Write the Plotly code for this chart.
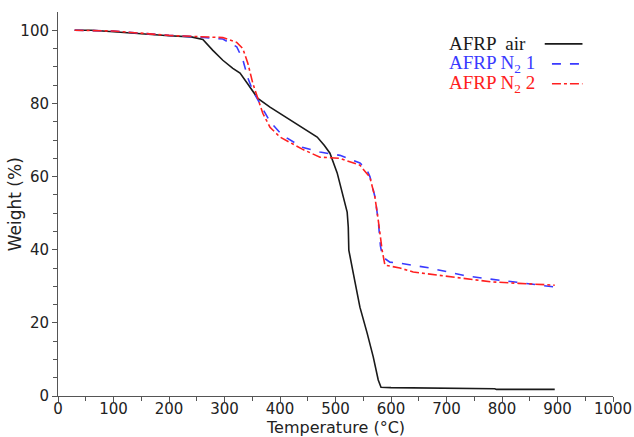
import plotly.graph_objects as go

# TGA curves
air_t = [30, 60, 100, 150, 200, 240, 261, 279, 297, 315, 328, 341, 360, 382, 413, 441, 467, 480,
         490, 503, 514, 521, 523, 524, 532, 544, 557, 568, 577, 582, 600, 700, 705, 787, 790, 895]
air_w = [100, 100, 99.6, 99.0, 98.5, 98.2, 97.5, 94.5, 91.8, 89.6, 88.3, 85.5, 81.4, 79.0, 76.0, 73.5, 70.8, 68.5,
         66.4, 61.0, 54.4, 50.3, 46.2, 39.9, 33.6, 24.3, 17.2, 10.7, 4.4, 2.4, 2.3, 2.2, 2.0, 2.0, 1.8, 1.8]

n1_t = [30, 100, 200, 250, 297, 322, 333, 342, 351, 360, 369, 382, 400, 413, 440, 472, 508, 544,
        556, 562, 571, 577, 581, 585, 598, 616, 670, 730, 766, 827, 895]
n1_w = [100, 99.8, 98.6, 98.2, 97.6, 95.5, 92.0, 87.0, 83.5, 81.2, 78.5, 75.0, 72.0, 70.5, 68.0, 66.7, 65.8, 63.7,
        62.0, 60.0, 54.5, 48.0, 41.0, 38.0, 36.6, 36.3, 35.0, 33.0, 32.2, 31.1, 29.8]

n2_t = [30, 100, 200, 250, 297, 322, 333, 342, 351, 360, 369, 382, 400, 440, 472, 508, 544,
        562, 571, 577, 584, 589, 616, 640, 703, 781, 830, 895]
n2_w = [100, 99.8, 98.6, 98.3, 98.0, 96.7, 95.0, 91.0, 85.5, 81.4, 77.3, 73.5, 70.8, 67.5, 65.3, 65.0, 63.1,
        59.8, 54.4, 48.1, 39.9, 35.8, 35.0, 33.9, 32.7, 31.2, 30.8, 30.3]

legend_names = ["AFRP  air", "AFRP N<sub>2</sub> 1", "AFRP N<sub>2</sub> 2"]
colors = ["#1a1a1a", "#3a3aff", "#ff2020"]
dashes = ["solid", "dash", "dashdot"]

fig = go.Figure()
for xs, ys, c, d in [(air_t, air_w, colors[0], dashes[0]),
                     (n1_t, n1_w, colors[1], dashes[1]),
                     (n2_t, n2_w, colors[2], dashes[2])]:
    fig.add_trace(go.Scatter(x=xs, y=ys, mode="lines", showlegend=False,
                             line=dict(color=c, width=1.6, dash=d)))

# legend drawn by hand: coloured serif text with the line sample on the right
for i, (name, c, d) in enumerate(zip(legend_names, colors, dashes)):
    yp = 0.917 - i * 0.052
    fig.add_annotation(x=0.701, y=yp, xref="paper", yref="paper", text=name, showarrow=False,
                       xanchor="left", yanchor="middle",
                       font=dict(family="Liberation Serif", size=19, color=c))
    x0 = 0.877 if i == 0 else 0.89
    fig.add_shape(type="line", xref="paper", yref="paper", x0=x0, x1=0.945, y0=yp, y1=yp,
                  line=dict(color=c, width=1.6, dash=d))

# axis titles as annotations so they sit where the original has them
fig.add_annotation(x=0.5, y=-0.082, xref="paper", yref="paper", text="Temperature (°C)",
                   showarrow=False, xanchor="center", yanchor="middle",
                   font=dict(family="DejaVu Sans", size=16, color="#222"))
fig.add_annotation(x=-0.077, y=0.5, xref="paper", yref="paper", text="Weight (%)",
                   showarrow=False, xanchor="center", yanchor="middle", textangle=-90,
                   font=dict(family="DejaVu Sans", size=17, color="#222"))

tick_font = dict(family="DejaVu Sans", size=15, color="#222")
fig.update_xaxes(range=[0, 1000], tickvals=list(range(0, 1001, 100)), showline=True,
                 linecolor="#555", linewidth=1, ticks="outside", ticklen=5, tickcolor="#555",
                 minor=dict(dtick=50, ticks="outside", ticklen=4, tickcolor="#555"),
                 showgrid=False, zeroline=False, tickfont=tick_font, automargin=False,
                 ticklabelstandoff=-6)
fig.update_yaxes(range=[0, 105], tickvals=list(range(0, 101, 20)), showline=True,
                 linecolor="#555", linewidth=1, ticks="outside", ticklen=5, tickcolor="#555",
                 minor=dict(tickvals=list(range(5, 101, 5)), ticks="outside", ticklen=4, tickcolor="#555"),
                 showgrid=False, zeroline=False, tickfont=tick_font, automargin=False)
fig.update_layout(width=634, height=437, margin=dict(l=58, r=21, t=12, b=41),
                  plot_bgcolor="white", paper_bgcolor="white")
# drop the default page margin so the figure fills the window exactly
fig.write_html("out.html", config={"displayModeBar": False},
               post_script="document.body.style.margin='0';document.body.style.overflow='hidden';")
